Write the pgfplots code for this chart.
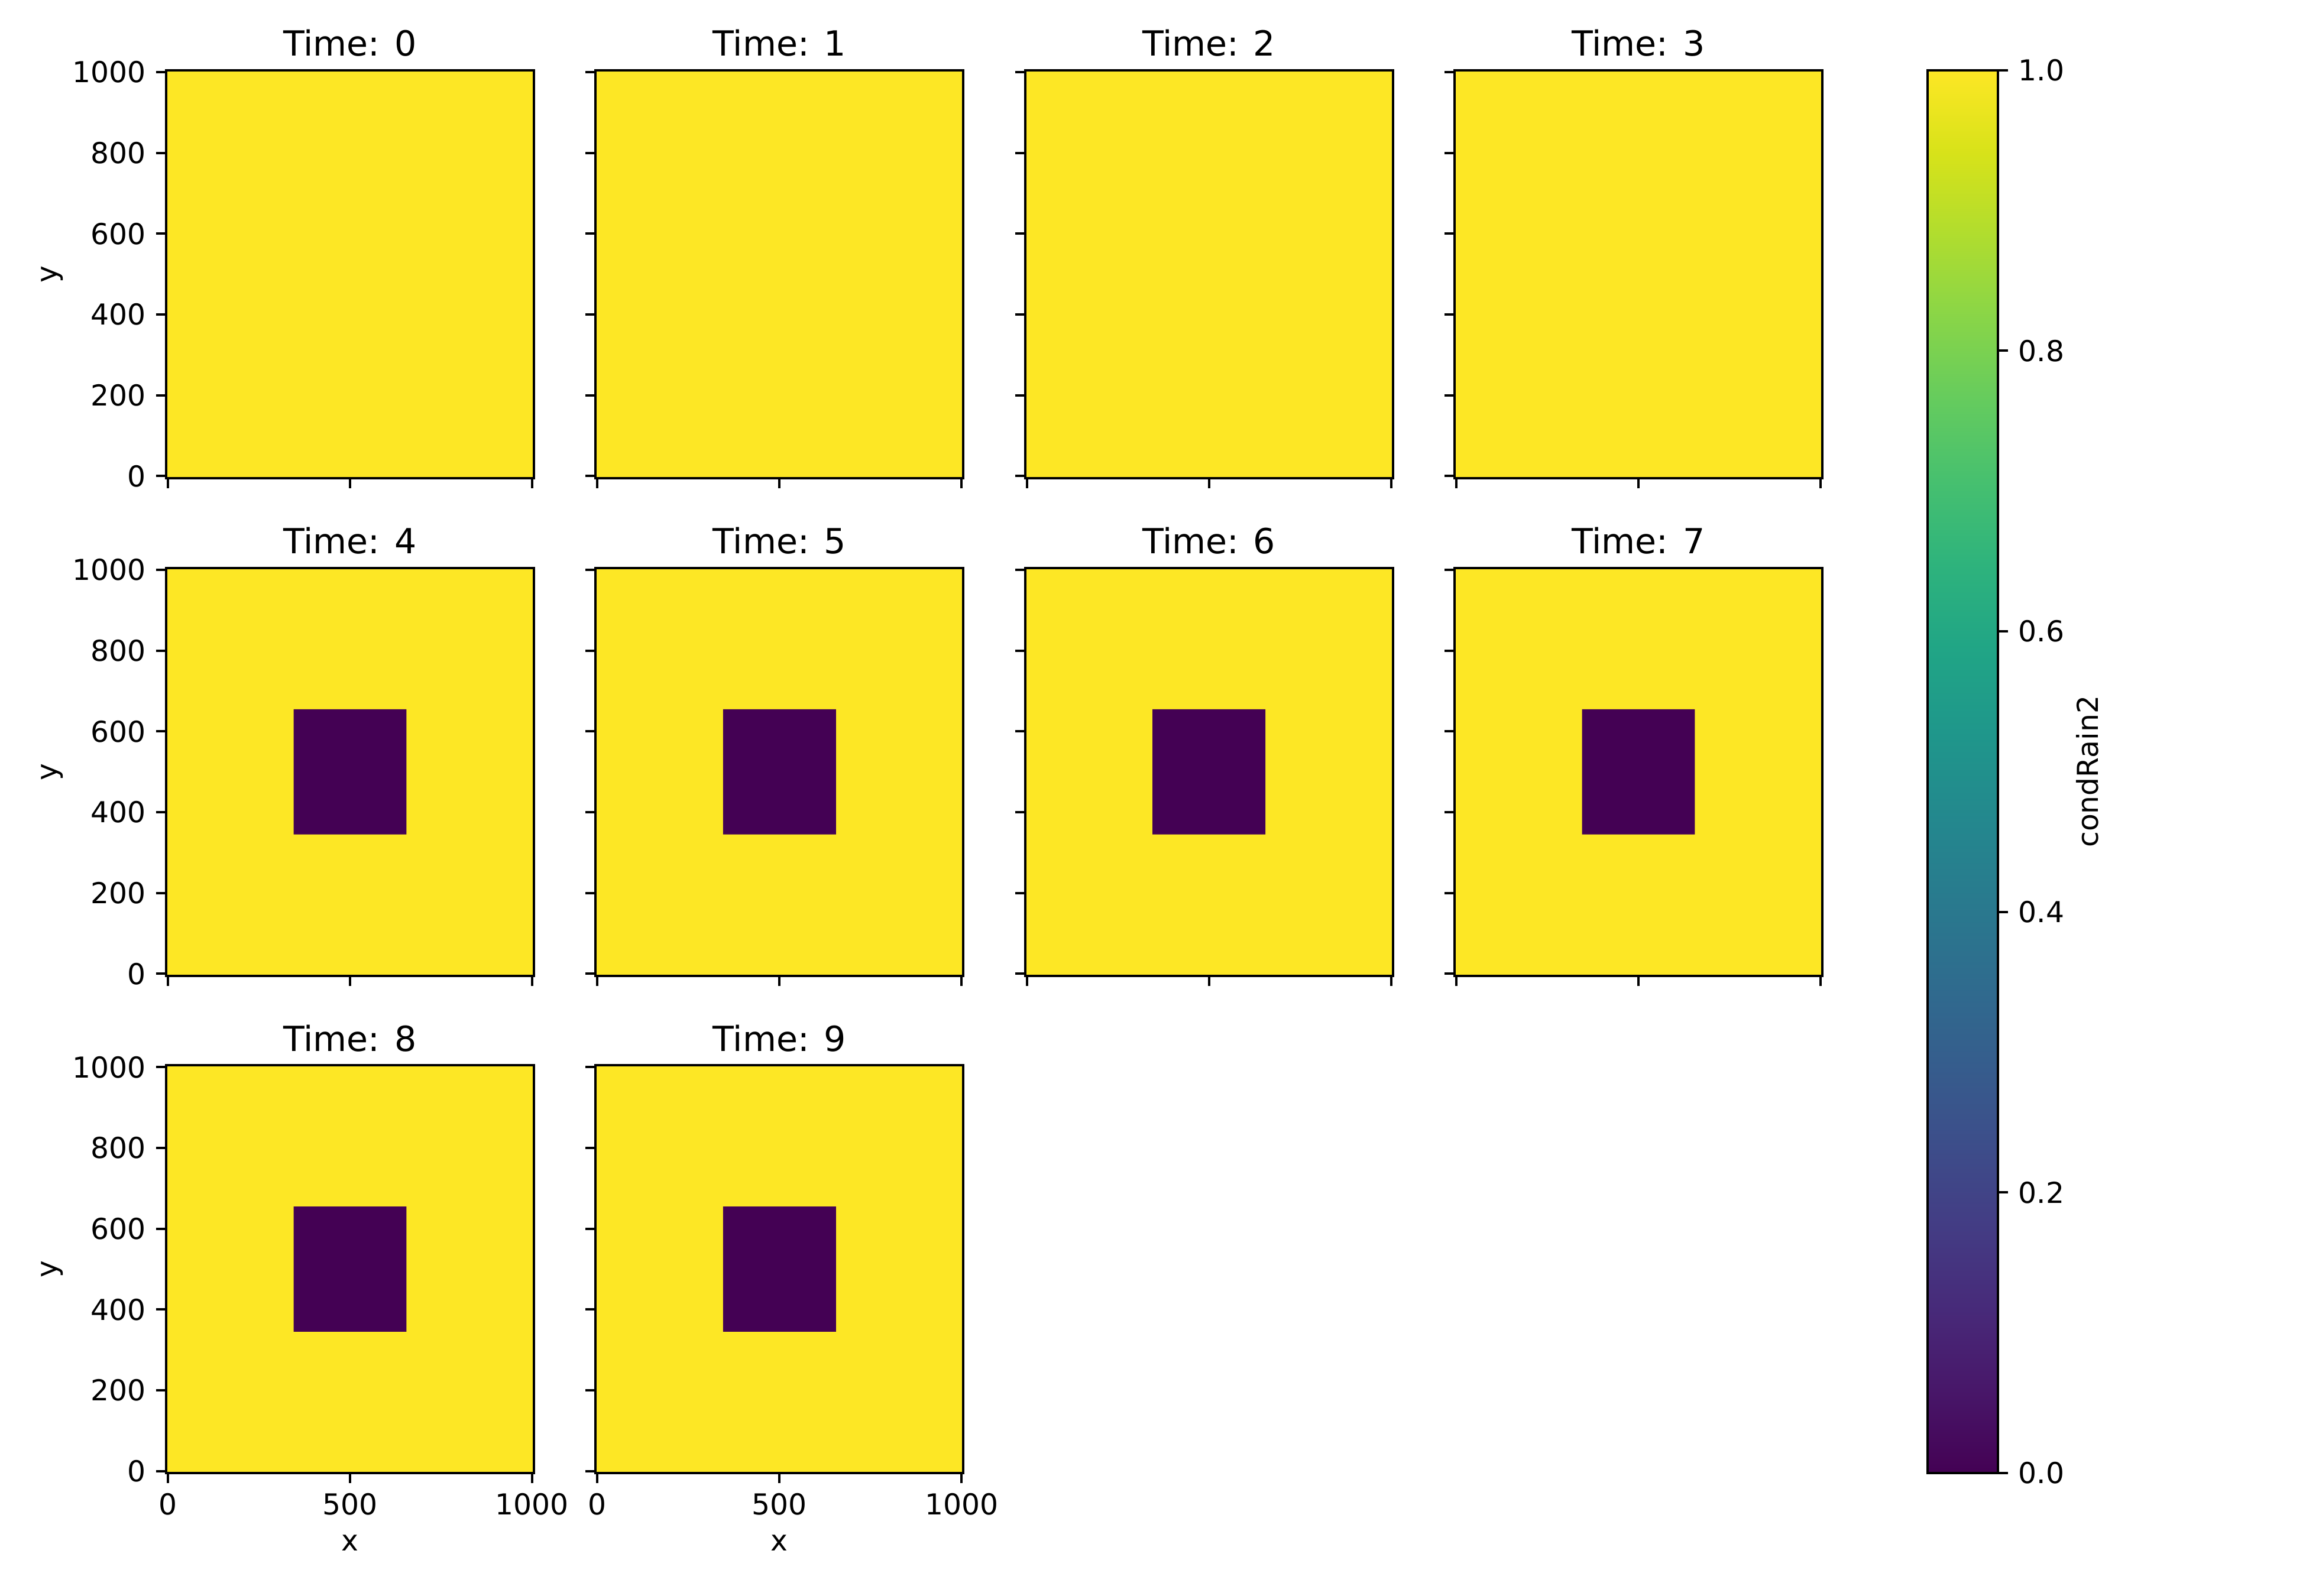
\documentclass[border=0pt]{standalone}
\usepackage{fontspec}
\setmainfont{DejaVu Sans}
\usepackage{pgfplots}
\pgfplotsset{compat=1.18}
\definecolor{vyellow}{HTML}{FDE725}
\definecolor{vpurple}{HTML}{440154}
\pgfplotsset{
 panel/.style={anchor=south west, scale only axis, width=127.5pt, height=141.45pt,
   xmin=-5, xmax=1005, ymin=-5, ymax=1005, axis on top,
   tick pos=left, tick align=outside, major tick length=3.5pt,
   xtick={0,500,1000}, ytick={0,200,400,600,800,1000},
   xticklabels={}, yticklabels={},
   axis line style={line width=0.8pt}, every tick/.style={black, line width=0.8pt},
   tick label style={font=\fontsize{10}{12}\selectfont},
   label style={font=\fontsize{10}{12}\selectfont},
   title style={font=\fontsize{12}{14}\selectfont, at={(0.5,1)}, anchor=base, yshift=-1.1pt},
   ylabel style={at={(axis description cs:-0.31,0.5)}, anchor=center},
 },
 ylab/.style={yticklabels={0,200,400,600,800,1000}, ylabel={y}},
 xlab/.style={xticklabels={0,500,1000}, xlabel={x}},
}
\newcommand{\fullfield}{\addplot[fill=vyellow, draw=none] coordinates {(-5,-5) (1005,-5) (1005,1005) (-5,1005) (-5,-5)};}
\newcommand{\hole}{\addplot[fill=vpurple, draw=none] coordinates {(345,345) (655,345) (655,655) (345,655) (345,345)};}
\begin{document}
\begin{tikzpicture}
\path[use as bounding box] (0,0) rectangle (799.5pt,553.5pt);
% row 1
\begin{axis}[panel, ylab, at={(57.6pt,387.7pt)}, title={Time: 0}]
\fullfield
\end{axis}
\begin{axis}[panel, at={(206.5pt,387.7pt)}, title={Time: 1}]
\fullfield
\end{axis}
\begin{axis}[panel, at={(355.4pt,387.7pt)}, title={Time: 2}]
\fullfield
\end{axis}
\begin{axis}[panel, at={(504.3pt,387.7pt)}, title={Time: 3},
  colorbar, colormap/viridis, point meta min=0, point meta max=1,
  colorbar/width=24.4pt,
  colorbar style={at={(parent axis.north east)}, anchor=north west, xshift=28pt,
    scale only axis, height=486.5pt,
    ytick={0,0.2,0.4,0.6,0.8,1}, yticklabels={0.0,0.2,0.4,0.6,0.8,1.0},
    yticklabel pos=right, ytick pos=right, tick align=outside, major tick length=3.5pt,
    axis line style={line width=0.8pt}, every tick/.style={black, line width=0.8pt},
    tick label style={font=\fontsize{10}{12}\selectfont},
    ylabel={condRain2}, ylabel style={font=\fontsize{10}{12}\selectfont,
      at={(axis description cs:2.27,0.5)}, anchor=center}}]
\fullfield
\end{axis}
% row 2
\begin{axis}[panel, ylab, at={(57.6pt,215.1pt)}, title={Time: 4}]
\fullfield
\hole
\end{axis}
\begin{axis}[panel, at={(206.5pt,215.1pt)}, title={Time: 5}]
\fullfield
\hole
\end{axis}
\begin{axis}[panel, at={(355.4pt,215.1pt)}, title={Time: 6}]
\fullfield
\hole
\end{axis}
\begin{axis}[panel, at={(504.3pt,215.1pt)}, title={Time: 7}]
\fullfield
\hole
\end{axis}
% row 3
\begin{axis}[panel, ylab, xlab, at={(57.6pt,42.64pt)}, title={Time: 8}]
\fullfield
\hole
\end{axis}
\begin{axis}[panel, xlab, at={(206.5pt,42.64pt)}, title={Time: 9}]
\fullfield
\hole
\end{axis}
\end{tikzpicture}
\end{document}
